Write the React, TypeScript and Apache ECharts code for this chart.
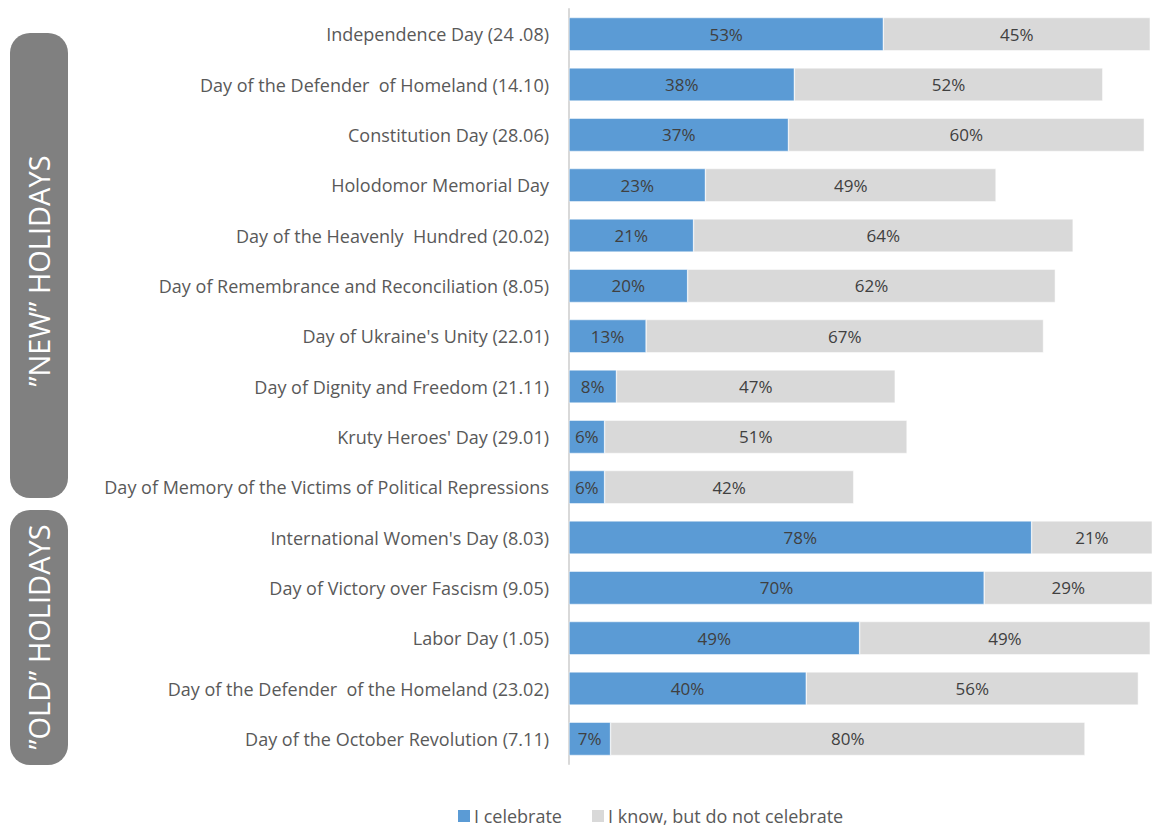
import React, { useEffect, useRef } from "react";
import * as echarts from "echarts";

const categories = [
  "Independence Day (24 .08)",
  "Day of the Defender  of Homeland (14.10)",
  "Constitution Day (28.06)",
  "Holodomor Memorial Day",
  "Day of the Heavenly  Hundred (20.02)",
  "Day of Remembrance and Reconciliation (8.05)",
  "Day of Ukraine's Unity (22.01)",
  "Day of Dignity and Freedom (21.11)",
  "Kruty Heroes' Day (29.01)",
  "Day of Memory of the Victims of Political Repressions",
  "International Women's Day (8.03)",
  "Day of Victory over Fascism (9.05)",
  "Labor Day (1.05)",
  "Day of the Defender  of the Homeland (23.02)",
  "Day of the October Revolution (7.11)",
];
const celebrate = [53, 38, 37, 23, 21, 20, 13, 8, 6, 6, 78, 70, 49, 40, 7];
const knowNot = [45, 52, 60, 49, 64, 62, 67, 47, 51, 42, 21, 29, 49, 56, 80];
const seriesNames = ["I celebrate", "I know, but do not celebrate"];
const groupLabels = ["\u201DNEW\u201D HOLIDAYS", "\u201DOLD\u201D HOLIDAYS"];

const FONT = "'Open Sans', Lato, sans-serif";

export default function App() {
  const ref = useRef<HTMLDivElement>(null);
  useEffect(() => {
    document.body.style.margin = "0";
    const chart = echarts.init(ref.current!, null, { renderer: "svg" });
    const label = {
      show: true,
      position: "inside",
      formatter: "{c}%",
      color: "#404040",
      fontSize: 17,
      fontFamily: FONT,
    };
    chart.setOption({
      animation: false,
      textStyle: { fontFamily: FONT },
      grid: { left: 569, top: 9, width: 583, height: 755, containLabel: false },
      xAxis: {
        type: "value",
        min: 0,
        max: 98.3,
        show: false,
      },
      yAxis: {
        type: "category",
        inverse: true,
        data: categories,
        axisLine: { show: true, lineStyle: { color: "#D9D9D9", width: 2 } },
        axisTick: { show: false },
        axisLabel: { color: "#595959", fontSize: 18, margin: 20, fontFamily: FONT },
      },
      legend: {
        left: 456,
        top: 807,
        padding: 0,
        itemWidth: 14,
        itemHeight: 14,
        itemGap: 28,
        icon: "rect",
        textStyle: { color: "#595959", fontSize: 18, fontFamily: FONT, padding: [0, 0, 0, -2] },
        data: seriesNames,
      },
      series: [
        {
          name: seriesNames[0],
          type: "bar",
          stack: "s",
          data: celebrate,
          barCategoryGap: "34%",
          itemStyle: { color: "#5B9BD5", borderColor: "#ffffff", borderWidth: 0.5 },
          label,
        },
        {
          name: seriesNames[1],
          type: "bar",
          stack: "s",
          data: knowNot,
          barCategoryGap: "34%",
          itemStyle: { color: "#D9D9D9", borderColor: "#ffffff", borderWidth: 0.5 },
          label,
        },
      ],
      graphic: [
        {
          type: "rect",
          shape: { x: 10, y: 33, width: 58, height: 465, r: 20 },
          style: { fill: "#808080" },
        },
        {
          type: "rect",
          shape: { x: 10, y: 510, width: 58, height: 255, r: 20 },
          style: { fill: "#808080" },
        },
        {
          type: "text",
          x: 38,
          y: 271,
          rotation: Math.PI / 2,
          style: {
            text: groupLabels[0],
            fill: "#ffffff",
            fontSize: 29,
            fontFamily: FONT,
            align: "center",
            verticalAlign: "middle",
          },
        },
        {
          type: "text",
          x: 38,
          y: 637,
          rotation: Math.PI / 2,
          style: {
            text: groupLabels[1],
            fill: "#ffffff",
            fontSize: 29,
            fontFamily: FONT,
            align: "center",
            verticalAlign: "middle",
          },
        },
      ],
    });
    return () => chart.dispose();
  }, []);
  return <div ref={ref} style={{ width: 1152, height: 827 }} />;
}
